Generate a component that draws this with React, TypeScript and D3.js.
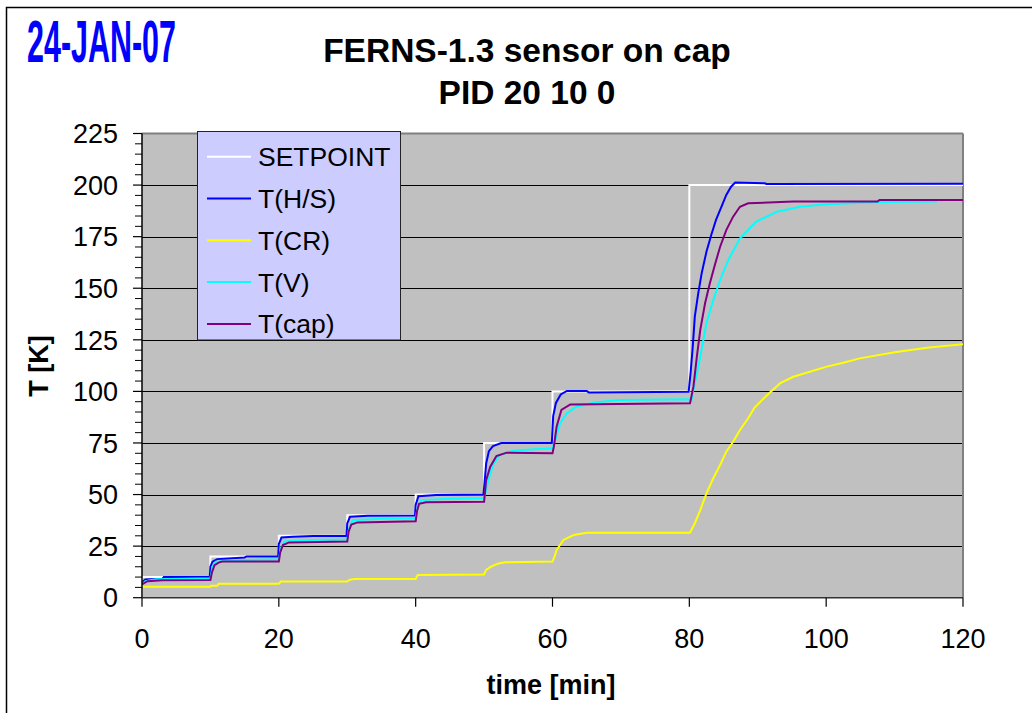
import React from "react";
import * as d3 from "d3";

type P = [number, number];

const xTicks = [0, 20, 40, 60, 80, 100, 120];
const yTicks = [0, 25, 50, 75, 100, 125, 150, 175, 200, 225];
const yMinorStep = 5;

const seriesNames = ["SETPOINT", "T(H/S)", "T(CR)", "T(V)", "T(cap)"];
const seriesColors = ["#FFFFFF", "#0000FF", "#FFFF00", "#00FFFF", "#800080"];

const setpoint: P[] = [
  [0, 0], [0, 10], [10, 10], [10, 20], [20, 20], [20, 30], [30, 30], [30, 40],
  [40, 40], [40, 50], [50, 50], [50, 75], [60, 75], [60, 100], [80, 100], [80, 200], [120, 200],
];

const tHS: P[] = [
  [0, 7.5], [0.5, 8.8], [3, 9.2], [3.2, 10], [9.9, 10],
  [10, 15], [10.3, 17.5], [11, 18.7], [15, 19.5], [15.3, 20], [19.9, 20],
  [20, 26], [20.4, 29.2], [22, 29.6], [25, 29.9], [29.9, 29.9],
  [30, 36], [30.4, 39.2], [33, 39.7], [39.9, 39.8],
  [40, 45], [40.4, 49.2], [43, 49.8], [49.9, 50],
  [50.05, 55], [50.3, 65], [50.7, 71], [51.3, 73.5], [52.5, 75], [59.9, 75],
  [60.1, 88], [60.5, 94.4], [61.2, 98.5], [62.1, 100.2], [65, 100.2], [65.3, 99.5], [79.9, 99.8],
  [80.2, 109.6], [80.5, 121.7], [80.8, 136.2], [81.3, 147.5], [81.8, 157.2], [82.5, 167.7],
  [83.2, 175.8], [83.9, 183.1], [84.7, 189.5], [85.4, 195.2], [86.1, 199.2], [86.7, 201.2],
  [91, 200.9], [91.3, 200.5], [120, 200.6],
];

const tCR: P[] = [
  [0, 5.3], [10, 5.3], [10.1, 5.8], [11, 5.8], [11.2, 6.8], [20, 6.8], [20.3, 7.8], [30, 7.8],
  [30.3, 8.6], [31, 9.1], [40, 9.1], [40.3, 11], [50, 11.3], [50.3, 13.5], [51, 15], [52, 16.5],
  [53, 17.2], [60, 17.5], [60.3, 20], [60.6, 23.1], [61.6, 28], [63.1, 30.4], [65, 31.5], [80.1, 31.5],
  [80.8, 36.1], [81.6, 42.5], [82.5, 50.6], [83.5, 57.9], [84.5, 64.3], [85.4, 70.8], [86.4, 75.6],
  [87.4, 81.3], [88.6, 87], [89.5, 92], [91.3, 98], [93.3, 104], [95.2, 107.1], [97.6, 109.5],
  [100.1, 112], [102.5, 113.9], [104.9, 116], [110, 119], [115, 121.3], [120, 122.8],
];

const tV: P[] = [
  [0, 6.5], [0.5, 8], [2, 9], [10, 9.4],
  [10.3, 15], [10.8, 17.5], [15, 18.3], [20, 18.6],
  [20.3, 24], [20.8, 27.2], [25, 28], [30, 28.2],
  [30.3, 34], [30.8, 37.5], [35, 38.3], [40, 38.5],
  [40.3, 44], [40.8, 47.3], [45, 48], [50, 48.3],
  [50.3, 52], [50.6, 57], [51.4, 65.1], [52.3, 69.2], [54.3, 71.3], [60, 72.4],
  [60.4, 76.4], [61.1, 84.5], [62.1, 89.4], [63.5, 92.6], [66.4, 94.7], [69.9, 95.8], [80.1, 96.2],
  [80.3, 96], [80.8, 103.9], [81.6, 116.8], [82.5, 133], [83.5, 144.3], [84.5, 154], [85.7, 163.7],
  [87.4, 174.2], [89.8, 182.3], [92.8, 187.1], [96.2, 189.5], [100.1, 190.7], [103.5, 191.2],
  [108, 191.8], [116.2, 192],
];

const tCap: P[] = [
  [0, 6.5], [0.8, 8], [3, 8.4], [10, 8.6],
  [10.2, 12], [10.6, 15.8], [11.2, 17], [11.7, 17.5], [20, 17.6],
  [20.2, 22], [20.6, 25.5], [21.5, 26.8], [30, 27.2],
  [30.2, 32], [30.6, 35.5], [31.5, 36.5], [40, 37],
  [40.2, 42], [40.5, 45.5], [41.5, 46.3], [50, 46.5],
  [50.1, 50], [50.3, 57], [50.9, 63.5], [51.8, 68.7], [53.3, 70.3], [60, 70],
  [60.2, 73.2], [60.6, 82.9], [61.3, 91], [62.6, 93.7], [80.1, 94.2],
  [80.6, 102.3], [81.1, 116.8], [81.6, 129.8], [82.3, 142.7], [83, 152.4], [83.8, 162.1],
  [84.5, 170.1], [85.4, 178.2], [86.4, 184.7], [87.4, 189.5], [88.6, 191.2], [95.2, 192],
  [107.5, 192], [107.8, 192.8], [120, 192.8],
];

const seriesData: P[][] = [setpoint, tHS, tCR, tV, tCap];

const W = 1032;
const H = 713;
const L = 142, R = 963, T = 133.5, B = 597.7;

export default function App() {
  const x = d3.scaleLinear().domain([0, 120]).range([L, R]);
  const y = d3.scaleLinear().domain([0, 225]).range([B, T]);
  const line = d3.line<P>().x((d) => x(d[0])).y((d) => y(d[1]));
  const minor = d3.range(0, 225 + 0.001, yMinorStep).filter((v) => v % 25 !== 0);
  const font = "'Liberation Sans', Arial, sans-serif";

  return (
    <svg width={W} height={H} style={{ position: "absolute", left: 0, top: 0, background: "#fff" }} fontFamily={font}>
      <defs>
        <clipPath id="plotclip">
          <rect x={L} y={T - 2} width={R - L} height={B - T + 2} />
        </clipPath>
      </defs>
      <rect x={6.5} y={7.5} width={1060} height={740} fill="#fff" stroke="#000" strokeWidth={1.5} />
      <text x={27} y={62} fontSize={60} fontWeight="bold" fill="#0000FF" textLength={149} lengthAdjust="spacingAndGlyphs">
        24-JAN-07
      </text>
      <text x={527} y={62} fontSize={33.5} fontWeight="bold" textAnchor="middle">FERNS-1.3 sensor on cap</text>
      <text x={527} y={104} fontSize={33.5} fontWeight="bold" textAnchor="middle">PID 20 10 0</text>

      <rect x={L} y={T} width={R - L} height={B - T} fill="#C0C0C0" />
      {yTicks.filter((v) => v > 0 && v < 225).map((v) => (
        <line key={"g" + v} x1={L} x2={R} y1={Math.round(y(v)) + 0.5} y2={Math.round(y(v)) + 0.5} stroke="#000" strokeWidth={1} />
      ))}
      <line x1={L} x2={R} y1={T} y2={T} stroke="#808080" strokeWidth={2} />
      <line x1={R} x2={R} y1={T} y2={B} stroke="#808080" strokeWidth={2} />

      <g clipPath="url(#plotclip)">
        {seriesData.map((s, i) => (
          <path key={i} d={line(s) || ""} fill="none" stroke={seriesColors[i]} strokeWidth={2} strokeLinejoin="miter" />
        ))}
      </g>

      <line x1={L} x2={L} y1={T} y2={B} stroke="#000" strokeWidth={1.5} />
      <line x1={L} x2={R} y1={B} y2={B} stroke="#333" strokeWidth={1.5} />
      {yTicks.map((v) => (
        <g key={"yt" + v}>
          <line x1={L - 9} x2={L} y1={y(v)} y2={y(v)} stroke="#000" strokeWidth={1.2} />
          <text x={118} y={y(v)} dy="0.36em" fontSize={27} textAnchor="end">{v}</text>
        </g>
      ))}
      {minor.map((v) => (
        <line key={"ym" + v} x1={L - 7} x2={L} y1={y(v)} y2={y(v)} stroke="#000" strokeWidth={1} />
      ))}
      {xTicks.map((v) => (
        <g key={"xt" + v}>
          <line x1={x(v)} x2={x(v)} y1={B} y2={B + 9} stroke="#000" strokeWidth={1.2} />
          <text x={x(v)} y={647.5} fontSize={27} textAnchor="middle">{v}</text>
        </g>
      ))}
      <text x={551} y={694} fontSize={27} fontWeight="bold" textAnchor="middle">time [min]</text>
      <text transform="translate(48,366) rotate(-90)" fontSize={27} fontWeight="bold" textAnchor="middle">T [K]</text>

      <rect x={197.5} y={131.5} width={203} height={208.5} fill="#CCCCFF" stroke="#222" strokeWidth={1} />
      {seriesNames.map((n, i) => {
        const yy = 156.7 + i * 41.8;
        return (
          <g key={n}>
            <line x1={207} x2={251} y1={yy} y2={yy} stroke={seriesColors[i]} strokeWidth={2} />
            <text x={258} y={yy} dy="0.36em" fontSize={26.5}>{n}</text>
          </g>
        );
      })}
    </svg>
  );
}
